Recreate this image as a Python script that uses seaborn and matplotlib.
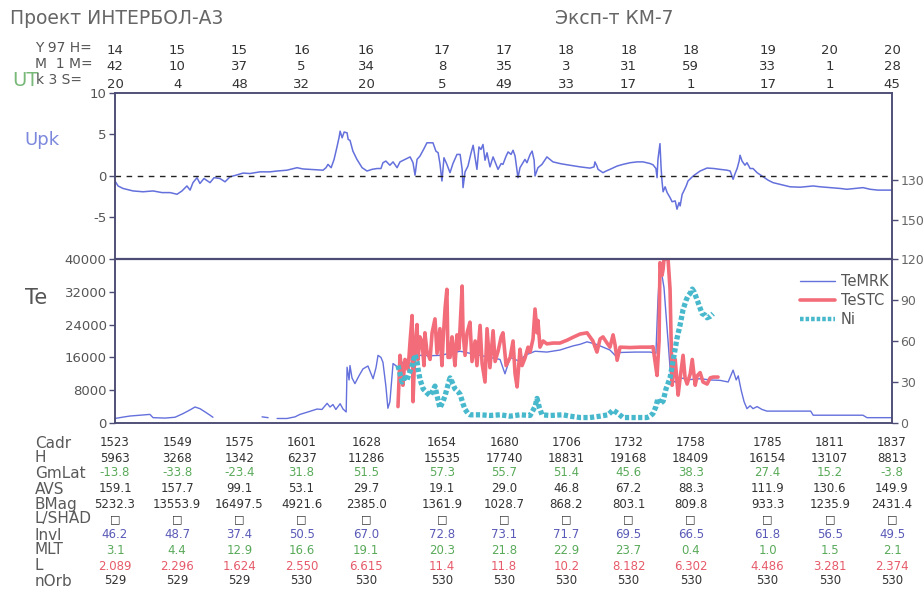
import numpy as np
import pandas as pd
import matplotlib
matplotlib.use("Agg")
import matplotlib.pyplot as plt
from matplotlib.lines import Line2D
from matplotlib.transforms import blended_transform_factory
import seaborn as sns

# ---------------- data ----------------
# tick times (UT)
tick_h = [14, 15, 15, 16, 16, 17, 17, 18, 18, 18, 19, 20, 20]
tick_m = [42, 10, 37, 5, 34, 8, 35, 3, 31, 59, 33, 1, 28]
tick_s = [20, 4, 48, 32, 20, 5, 49, 33, 17, 1, 17, 1, 45]

row_names = ["Cadr", "H", "GmLat", "AVS", "BMag", "L/SHAD", "Invl", "MLT", "L", "nOrb"]
cadr = ["1523", "1549", "1575", "1601", "1628", "1654", "1680", "1706", "1732", "1758", "1785", "1811", "1837"]
height = ["5963", "3268", "1342", "6237", "11286", "15535", "17740", "18831", "19168", "18409", "16154", "13107", "8813"]
gmlat = ["-13.8", "-33.8", "-23.4", "31.8", "51.5", "57.3", "55.7", "51.4", "45.6", "38.3", "27.4", "15.2", "-3.8"]
avs = ["159.1", "157.7", "99.1", "53.1", "29.7", "19.1", "29.0", "46.8", "67.2", "88.3", "111.9", "130.6", "149.9"]
bmag = ["5232.3", "13553.9", "16497.5", "4921.6", "2385.0", "1361.9", "1028.7", "868.2", "803.1", "809.8", "933.3", "1235.9", "2431.4"]
lshad = ["□"] * 13
invl = ["46.2", "48.7", "37.4", "50.5", "67.0", "72.8", "73.1", "71.7", "69.5", "66.5", "61.8", "56.5", "49.5"]
mlt = ["3.1", "4.4", "12.9", "16.6", "19.1", "20.3", "21.8", "22.9", "23.7", "0.4", "1.0", "1.5", "2.1"]
lval = ["2.089", "2.296", "1.624", "2.550", "6.615", "11.4", "11.8", "10.2", "8.182", "6.302", "4.486", "3.281", "2.374"]
norb = ["529", "529", "529", "530", "530", "530", "530", "530", "530", "530", "530", "530", "530"]

# time in minutes after 14:00 UT
upk_t = [42.3, 43.7, 45.9, 50.4, 54.8, 59.3, 63.3, 66.9, 70.0, 72.2,
         74.4, 75.8, 77.1, 78.9, 80.2, 82.0, 84.7, 86.5, 89.1, 91.4,
         93.6, 96.3, 99.4, 102.5, 107.0, 111.4, 114.6, 119.0, 123.5, 126.1,
         129.3, 135.1, 136.4, 137.3, 138.7, 140.0, 141.3, 142.2, 142.7, 143.6,
         144.5, 145.8, 146.3, 147.1, 148.4, 150.2, 152.5, 154.7, 156.9, 159.1,
         160.9, 161.8, 163.1, 164.9, 166.3, 168.1, 169.4, 171.6, 173.9, 175.2,
         176.1, 177.0, 178.3, 180.1, 181.4, 184.1, 185.4, 186.4, 187.2, 188.1,
         189.0, 190.3, 191.7, 193.0, 194.8, 196.2, 197.1, 197.5, 198.4, 199.7,
         201.1, 202.0, 202.9, 203.7, 204.6, 205.5, 206.4, 207.3, 208.2, 209.5,
         210.9, 212.2, 213.1, 214.5, 215.3, 216.7, 217.6, 218.9, 219.8, 220.7,
         222.0, 222.9, 223.8, 225.1, 226.0, 227.4, 228.3, 229.2, 229.6, 230.9,
         232.7, 234.9, 237.6, 240.7, 243.9, 247.4, 249.7, 254.1, 255.9, 256.3,
         257.2, 257.7, 259.9, 261.3, 263.0, 266.2, 268.8, 272.0, 275.1, 277.8,
         280.9, 282.2, 283.5, 284.0, 284.4, 285.3, 285.8, 286.2, 286.7, 287.6,
         288.5, 289.8, 290.7, 292.1, 292.9, 293.8, 294.3, 295.2, 295.6, 297.0,
         297.8, 300.1, 303.2, 306.3, 309.4, 312.1, 315.2, 316.6, 317.9, 318.8,
         319.7, 320.6, 321.0, 321.9, 323.2, 324.1, 325.5, 326.8, 328.6, 331.3,
         333.5, 335.7, 338.8, 343.3, 347.8, 353.6, 356.7, 361.1, 365.6, 368.7,
         372.3, 375.8, 379.0, 382.5, 388.7]
upk_v = [-0.6, -1.2, -1.5, -1.8, -1.9, -1.8, -2.0, -2.0, -2.2, -1.8,
         -1.2, -1.7, -0.8, -0.2, -0.9, -0.3, -0.8, -0.2, -0.3, -0.7,
         -0.1, 0.1, 0.35, 0.3, 0.5, 0.5, 0.6, 0.7, 1.0, 0.85,
         0.8, 0.7, 1.0, 1.4, 1.0, 2.0, 3.5, 4.6, 5.4, 4.6,
         5.3, 5.2, 4.4, 4.3, 3.0, 2.0, 1.0, 0.6, 0.8, 0.9,
         0.9, 1.6, 1.8, 1.3, 1.7, 1.0, 1.7, 2.0, 2.3, 1.6,
         0.1, 2.0, 2.4, 3.3, 4.0, 4.0, 3.0, 2.8, 1.5, -0.6,
         2.2, 1.4, 0.4, 1.5, 2.6, 2.6, 0.8, -1.4, 0.5, 1.2,
         2.8, 3.7, 2.2, 0.8, 3.5, 3.2, 3.8, 1.9, 2.8, 1.1,
         2.3, 1.4, 0.8, 1.5, 1.4, 2.4, 2.9, 2.6, 3.1, 2.4,
         -0.2, 1.0, 1.4, 2.0, 1.6, 2.6, 3.0, 1.9, 0.0, 1.0,
         1.4, 2.3, 1.7, 1.5, 1.35, 1.2, 1.1, 0.95, 1.1, 1.7,
         1.2, 0.8, 0.4, 0.6, 0.8, 1.2, 1.4, 1.6, 1.7, 1.7,
         1.5, 1.35, 0.9, -0.2, 2.0, 3.9, 1.0, -0.6, -1.9, -1.3,
         -2.0, -2.6, -3.1, -3.0, -4.0, -3.2, -3.6, -2.2, -2.0, -1.2,
         -0.6, 0.0, 0.6, 0.96, 0.9, 0.8, 0.7, 0.6, -0.4, 0.3,
         0.9, 1.8, 2.5, 1.8, 1.3, 1.6, 0.9, 0.9, 0.4, -0.1,
         -0.5, -0.8, -1.0, -1.3, -1.35, -1.2, -1.3, -1.4, -1.5, -1.6,
         -1.5, -1.4, -1.6, -1.7, -1.7]

temrk_t = [42.3, 45.5, 49.0, 53.5, 57.9, 59.3, 64.6, 69.1, 72.7, 75.8,
           78.0, 80.2, 82.5, 84.7, 86.0, 96.0, 107.9, 110.6, 112.5, 114.6,
           119.0, 122.6, 124.8, 128.4, 132.4, 134.6, 136.9, 138.2, 139.5, 140.8,
           142.7, 144.0, 145.4, 145.8, 146.7, 147.1, 148.0, 149.3, 151.1, 152.9,
           155.1, 156.5, 157.4, 158.7, 159.6, 160.9, 161.8, 163.1, 164.0, 164.9,
           166.3, 168.5, 170.7, 173.9, 178.3, 182.8, 187.2, 191.7, 196.2, 200.6,
           205.1, 209.5, 214.0, 216.2, 218.5, 222.9, 225.1, 229.6, 234.9, 240.7,
           246.5, 249.7, 252.8, 256.3, 258.6, 263.0, 265.3, 267.5, 274.2, 280.9,
           283.5, 284.4, 285.3, 286.2, 287.1, 288.9, 290.2, 292.1, 294.3, 298.8,
           303.2, 307.7, 312.1, 315.7, 317.9, 319.3, 320.2, 321.5, 322.8, 324.1,
           325.5, 326.8, 328.6, 330.8, 333.0, 343.3, 352.5, 353.6, 365.6, 375.8,
           377.6, 388.7]
temrk_v = [1100, 1400, 1700, 1900, 2100, 1300, 1200, 1400, 2300, 3200,
           3900, 3500, 2700, 1900, 1400, np.nan, 1500, 1300, np.nan, 1100,
           1100, 1500, 2100, 2700, 3400, 3300, 4800, 3900, 4500, 3300,
           4700, 3400, 2700, 13600, 10500, 14000, 11000, 9600, 11500, 13200,
           13900, 12000, 10800, 13500, 16500, 16000, 14800, 9000, 3600, 5200,
           14500, 13600, 14800, 16000, 16500, 16400, 16500, 17000, 17500, 17000,
           16500, 16000, 15500, 12000, 16000, 15000, 16500, 17500, 17300, 17800,
           18800, 19200, 19800, 19300, 18800, 17800, 16500, 17200, 17300, 17300,
           17000, 30000, 38500, 36000, 33000, 20000, 10500, 10000, 11000, 10600,
           10800, 10500, 10400, 10000, 12900, 10500, 11500, 8000, 5200, 3500,
           4200, 3500, 4000, 3300, 2900, 2900, 2900, 1900, 1900, 1900,
           1300, 1300]

testc_t = [168.5, 169.4, 170.3, 170.7, 171.6, 173.0, 173.9, 174.8, 175.2, 176.1,
           177.0, 177.4, 178.3, 179.2, 180.1, 180.5, 181.4, 182.8, 183.7, 185.0,
           185.9, 187.2, 188.1, 188.6, 189.5, 190.3, 190.8, 191.7, 192.6, 193.0,
           193.9, 194.8, 195.7, 197.1, 197.5, 198.4, 199.3, 200.6, 201.5, 202.9,
           203.7, 205.1, 206.0, 207.3, 208.2, 209.5, 210.9, 211.8, 213.1, 214.5,
           215.3, 216.7, 218.5, 219.8, 220.7, 221.6, 222.9, 223.8, 225.1, 226.5,
           227.4, 228.7, 229.6, 230.5, 230.9, 231.8, 233.2, 234.9, 237.6, 240.7,
           243.9, 246.5, 249.7, 252.8, 254.1, 255.4, 257.2, 258.6, 259.9, 261.7,
           263.0, 264.4, 265.3, 266.2, 267.5, 272.0, 276.5, 280.9, 282.2, 283.1,
           284.0, 284.9, 285.3, 286.2, 286.7, 287.1, 288.0, 288.9, 289.8, 290.7,
           291.6, 292.1, 292.9, 293.4, 294.3, 295.6, 296.5, 297.4, 298.8, 299.7,
           301.0, 301.9, 303.2, 304.5, 306.3, 307.7, 309.0, 311.2]
testc_v = [4000, 16500, 12000, 9200, 15500, 13000, 20000, 26200, 5200, 18900,
           24000, 15500, 21000, 19800, 14000, 22000, 17500, 15500, 22000, 25400,
           17000, 23000, 14000, 20000, 28000, 32600, 16000, 16000, 21000, 18900,
           14000, 21500, 18000, 33400, 22000, 16500, 22000, 24600, 15000, 20000,
           14000, 23800, 14500, 10000, 23000, 13500, 22500, 15000, 17500, 21000,
           22000, 14000, 16000, 20000, 12000, 8800, 18000, 14000, 15800, 18500,
           17300, 20500, 27800, 22000, 25000, 18500, 20000, 19300, 19500, 19500,
           20200, 20900, 21700, 22000, 21000, 20000, 17300, 20500, 21000, 19500,
           18500, 21500, 19000, 15300, 18500, 18400, 18500, 18500, 18600, 15000,
           11600, 20000, 39100, 36000, 37500, 40000, 40000, 40000, 32600, 9200,
           13500, 15500, 10000, 6800, 11000, 16500, 11000, 9500, 12000, 15500,
           9200, 11500, 12300, 10000, 9500, 11000, 11200, 11200]

ni_t = [168.5, 169.4, 170.3, 171.6, 172.4, 173.9, 174.8, 176.1, 177.0, 177.4,
        178.3, 179.7, 181.4, 182.8, 184.1, 185.0, 185.9, 187.2, 188.6, 189.5,
        190.8, 191.7, 192.6, 193.9, 195.2, 196.2, 197.5, 198.4, 199.7, 200.6,
        205.1, 209.5, 214.0, 218.5, 222.9, 227.4, 229.6, 230.5, 231.4, 232.7,
        236.2, 242.0, 245.2, 249.7, 254.1, 258.6, 262.2, 264.4, 266.6, 268.8,
        274.2, 279.5, 280.9, 282.2, 283.5, 284.4, 285.3, 286.7, 288.0, 289.8,
        291.1, 292.9, 294.3, 295.6, 297.0, 297.8, 298.8, 299.7, 300.5, 301.9,
        303.2, 304.1, 305.4, 306.3, 307.7, 309.0]
ni_v = [42, 36, 30, 33, 31, 38, 42, 50, 45, 40,
        32, 25, 22, 20, 24, 27, 20, 11, 16, 20,
        28, 33, 30, 25, 23, 21, 14, 10, 7, 6,
        6, 5.5, 6, 5, 6, 5.5, 12, 18, 12, 6,
        5.5, 6, 5, 4, 4, 5, 6, 9.5, 7, 4,
        4, 4, 5, 7, 12, 18, 14, 16, 25, 33,
        45, 62, 72, 83, 90, 93, 95, 98, 96, 90,
        84, 80, 79, 77, 78, 80]

# ---------------- style ----------------
sns.set_theme(style="white")
plt.rcParams["font.family"] = ["DejaVu Sans"]

BLUE = "#6470dc"
RED = "#f26c7a"
CYAN = "#48b8cc"
FRAME = "#4c4c74"
TXT = "#555555"
GREEN = "#5aaa5a"
PURPLE = "#5a5ab8"
PINK = "#e65a6a"

W, H = 923, 591
fig = plt.figure(figsize=(W / 100, H / 100), dpi=100)
fig.patch.set_facecolor("white")


def box(l, t, r, b):
    return [l / W, 1 - b / H, (r - l) / W, (b - t) / H]


ax_up = fig.add_axes(box(115, 93, 892, 259))
ax_lo = fig.add_axes(box(115, 259, 892, 423))

tick_t = [(h - 14) * 60 + m + s / 60 for h, m, s in zip(tick_h, tick_m, tick_s)]
xlim = (tick_t[0], tick_t[-1])

# ---- upper panel: Upk ----
sns.lineplot(x=upk_t, y=upk_v, ax=ax_up, color=BLUE, lw=1.1,
             estimator=None, sort=False)
ax_up.axhline(0, color="#222222", lw=1.0, ls=(0, (4, 4)))
ax_up.set_xlim(*xlim)
ax_up.set_ylim(-10, 10)
ax_up.set_yticks([10, 5, 0, -5])
ax_up.set_yticklabels(["10", "5", "0", "-5"])
ax_up.set_xticks([])
ax_up.spines["bottom"].set_visible(False)

ax_up2 = ax_up.twinx()
ax_up2.set_ylim(170, 85.5)
ax_up2.set_yticks([130, 150])
ax_up2.set_yticklabels(["130", "150"])

# ---- lower panel ----
mrk = pd.DataFrame({"t": temrk_t, "v": temrk_v})
mrk["seg"] = mrk["v"].isna().cumsum()
mrk = mrk.dropna()
sns.lineplot(data=mrk, x="t", y="v", units="seg", estimator=None, sort=False,
             ax=ax_lo, color=BLUE, lw=1.0)
sns.lineplot(x=testc_t, y=testc_v, ax=ax_lo, color=RED, lw=2.6,
             estimator=None, sort=False)
ax_lo.set_xlim(*xlim)
ax_lo.set_ylim(0, 40000)
ax_lo.set_yticks([40000, 32000, 24000, 16000, 8000, 0])
ax_lo.set_xticks(tick_t)
ax_lo.set_xticklabels([])

ax_ni = ax_lo.twinx()
sns.lineplot(x=ni_t, y=ni_v, ax=ax_ni, color=CYAN, lw=3.8,
             linestyle=(0, (0.8, 0.45)), estimator=None, sort=False)
ax_ni.set_ylim(0, 120)
ax_ni.set_yticks([0, 30, 60, 90, 120])
ax_ni.set_xlim(*xlim)

for a in (ax_up, ax_lo, ax_up2, ax_ni):
    a.set_xlabel("")
    a.set_ylabel("")
    for sp in a.spines.values():
        sp.set_color(FRAME)
        sp.set_linewidth(1.1)
    a.tick_params(axis="y", direction="out", length=4, width=1, color=FRAME,
                  labelsize=9.5, labelcolor=TXT, pad=2)
    a.patch.set_alpha(0)
ax_lo.spines["top"].set_linewidth(1.6)
ax_up2.spines["bottom"].set_visible(False)
ax_lo.tick_params(axis="x", direction="out", length=8, width=1, color=FRAME)
ax_up2.tick_params(axis="y", labelsize=9, labelcolor="#666666")
ax_ni.tick_params(axis="y", labelsize=9, labelcolor="#666666")

# ---- legend ----
handles = [Line2D([], [], color=BLUE, lw=1.0),
           Line2D([], [], color=RED, lw=2.6),
           Line2D([], [], color=CYAN, lw=3.2, ls=(0, (0.8, 0.45)))]
leg = fig.legend(handles, ["TeMRK", "TeSTC", "Ni"], loc="upper left",
                 bbox_to_anchor=(800 / W, 1 - 274 / H), frameon=False,
                 fontsize=10.5, handlelength=2.4, handletextpad=0.4,
                 labelspacing=0.28, borderpad=0, borderaxespad=0)
for t in leg.get_texts():
    t.set_color(TXT)

# ---- header text ----
fig.text(10 / W, 1 - 18 / H, "Проект ИНТЕРБОЛ-А3", fontsize=13.5,
         color="#666666", va="center")
fig.text(555 / W, 1 - 18 / H, "Эксп-т КМ-7", fontsize=13.5,
         color="#666666", va="center")
fig.text(35 / W, 1 - 48 / H, "Y 97 H=", fontsize=10, color=TXT, va="center")
fig.text(35 / W, 1 - 64 / H, "M  1 M=", fontsize=10, color=TXT, va="center")
fig.text(12 / W, 1 - 80 / H, "UT", fontsize=14, color="#78b878", va="center")
fig.text(36 / W, 1 - 80 / H, "k 3 S=", fontsize=10, color=TXT, va="center")

tr = blended_transform_factory(ax_lo.transData, fig.transFigure)
for t, hh, mm, ss in zip(tick_t, tick_h, tick_m, tick_s):
    ax_lo.text(t, 1 - 51 / H, str(hh), transform=tr, ha="center", va="center",
               fontsize=9.5, color="#333333", clip_on=False)
    ax_lo.text(t, 1 - 67 / H, str(mm), transform=tr, ha="center", va="center",
               fontsize=9.5, color="#333333", clip_on=False)
    ax_lo.text(t, 1 - 84 / H, str(ss), transform=tr, ha="center", va="center",
               fontsize=9.5, color="#333333", clip_on=False)

# ---- panel labels ----
fig.text(24 / W, 1 - 140 / H, "Upk", fontsize=13, color="#7c88dc", va="center")
fig.text(25 / W, 1 - 298 / H, "Te", fontsize=15, color="#555555", va="center")

# ---- bottom table ----
rows = [cadr, height, gmlat, avs, bmag, lshad, invl, mlt, lval, norb]
row_colors = ["#333333", "#333333", GREEN, "#333333", "#333333", "#333333",
              PURPLE, GREEN, PINK, "#333333"]
row_y = [443, 458, 473, 489, 504, 519, 535, 550, 566, 581]
for name, vals, col, y in zip(row_names, rows, row_colors, row_y):
    fig.text(35 / W, 1 - y / H, name, fontsize=11, color="#5a5a5a", va="center")
    for t, v in zip(tick_t, vals):
        ax_lo.text(t, 1 - y / H, v, transform=tr, ha="center", va="center",
                   fontsize=8.5 if name != "L/SHAD" else 8,
                   color=col, clip_on=False)

fig.savefig("out.png", dpi=100, facecolor="white")
